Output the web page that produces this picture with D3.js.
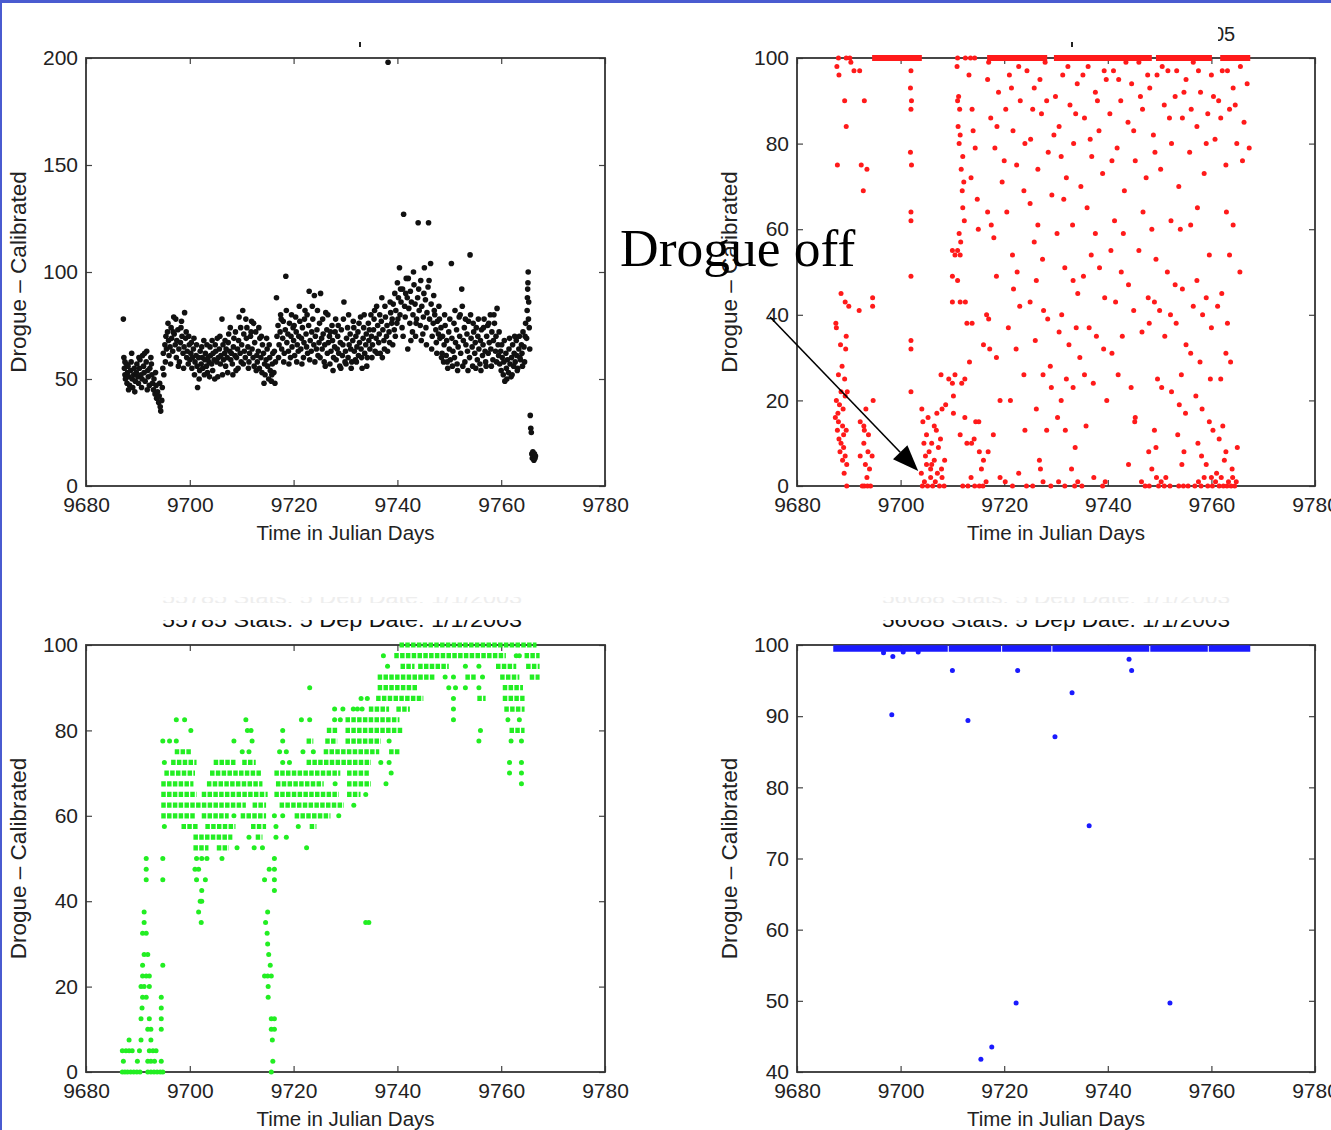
<!DOCTYPE html>
<html>
<head>
<meta charset="utf-8">
<script src="https://cdn.jsdelivr.net/npm/d3@7"></script>
<style>
body { margin:0; background:#fff; }
svg { display:block; }
</style>
</head>
<body>
<div id="container"></div>
<script>
var W = 1331, H = 1130;

// axis ticks
var dayTicks = [9680, 9700, 9720, 9740, 9760, 9780];
var blackTicks = [0, 50, 100, 150, 200];
var pctTicks = [0, 20, 40, 60, 80, 100];
var blueTicks = [40, 50, 60, 70, 80, 90, 100];

// drifter 1 (black) : day,value
var blackPts = "9687.2,78 9687.3,60 9687.4,55 9687.5,52 9687.6,50 9687.8,57 9687.9,48 9688.0,53 9688.1,56 9688.3,51 9688.4,47 9688.6,54 9688.7,58 9688.9,50 9689.0,46 9689.2,52 9689.3,55 9689.5,49 9689.7,53 9689.8,57 9690.0,51 9690.1,48 9690.3,55 9690.4,59 9690.6,52 9690.8,50 9690.9,61 9691.1,56 9691.2,53 9691.4,49 9691.6,58 9691.7,63 9691.9,54 9692.0,51 9692.2,47 9692.3,55 9692.5,60 9692.7,52 9692.8,48 9693.0,45 9693.1,50 9693.3,43 9693.5,47 9693.6,41 9693.8,44 9694.0,39 9694.1,42 9694.3,37 9694.4,35 9694.6,40 9694.7,46 9694.8,55 9694.9,62 9695.0,52 " +
 "9695.2,66 9695.4,70 9695.5,64 9695.7,72 9695.9,68 9696.0,61 9696.2,65 9696.4,74 9696.5,69 9696.7,63 9696.9,79 9697.0,71 9697.2,66 9697.4,60 9697.5,68 9697.7,73 9697.9,64 9698.0,58 9698.2,67 9698.4,77 9698.5,70 9698.7,62 9698.9,65 9699.0,81 9699.2,69 9699.4,60 9699.5,63 9699.7,57 9699.9,66 9700.0,59 9700.2,62 9700.4,55 9700.5,60 9700.7,64 9700.9,52 9701.0,58 9701.2,61 9701.4,56 9701.5,46 9701.7,60 9701.9,54 9702.0,63 9702.2,57 9702.4,60 9702.5,55 9702.7,68 9702.9,59 9703.0,62 9703.2,56 9703.4,53 9703.5,60 9703.7,58 9703.9,65 9704.0,61 9704.2,57 9704.4,54 9704.5,62 9704.7,59 9704.9,66 9705.0,63 9705.2,58 9705.4,51 9705.5,60 9705.7,64 9705.9,57 9706.0,61 9706.2,78 9706.4,66 9706.5,59 9706.7,62 9706.9,56 9707.0,64 9707.2,60 9707.4,67 9707.5,71 9707.7,63 9707.9,59 9708.0,62 9708.2,57 9708.4,65 9708.5,69 9708.7,61 9708.9,54 9709.0,60 9709.2,64 9709.4,68 9709.5,79 9709.7,62 9709.9,58 " +
 "9710.0,66 9710.2,82 9710.4,71 9710.5,63 9710.7,60 9710.9,69 9711.0,74 9711.2,65 9711.4,58 9711.5,62 9711.7,70 9711.9,77 9712.0,64 9712.2,60 9712.4,56 9712.5,67 9712.7,72 9712.9,61 9713.0,58 9713.2,63 9713.4,55 9713.5,69 9713.7,60 9713.9,53 9714.0,66 9714.2,62 9714.4,57 9714.5,52 9714.7,59 9714.9,64 9715.0,56 9715.2,50 9715.4,60 9715.5,54 9715.7,49 9715.9,57 9716.0,62 9716.2,53 9716.4,48 9716.5,58 " +
 "9716.7,88 9716.8,70 9717.0,75 9717.2,66 9717.4,72 9717.5,80 9717.7,64 9717.9,69 9718.0,77 9718.2,62 9718.4,73 9718.5,98 9718.7,67 9718.9,71 9719.0,63 9719.2,76 9719.4,60 9719.5,70 9719.7,65 9719.9,74 9720.0,68 9720.2,61 9720.4,79 9720.5,72 9720.7,66 9720.9,63 9721.0,70 9721.2,77 9721.4,64 9721.5,69 9721.7,74 9721.9,60 9722.0,67 9722.2,82 9722.4,71 9722.5,65 9722.7,62 9722.9,75 9723.0,91 9723.2,68 9723.4,63 9723.5,72 9723.7,78 9723.9,66 9724.0,89 9724.2,70 9724.4,64 9724.5,73 9724.7,61 9724.9,67 9725.0,76 9725.2,90 9725.4,69 9725.5,64 9725.7,71 9725.9,58 9726.0,66 9726.2,81 9726.4,73 9726.5,62 9726.7,67 9726.9,70 9727.0,57 9727.2,63 9727.4,75 9727.5,68 9727.7,60 9727.9,65 9728.0,72 9728.2,59 9728.4,64 9728.5,70 9728.7,62 9728.9,56 9729.0,67 9729.2,73 9729.4,61 9729.5,66 9729.7,86 9729.9,58 " +
 "9730.0,63 9730.2,69 9730.4,74 9730.5,60 9730.7,66 9730.9,71 9731.0,64 9731.2,58 9731.4,68 9731.5,77 9731.7,63 9731.9,59 9732.0,70 9732.2,65 9732.4,72 9732.5,61 9732.7,67 9732.9,79 9733.0,64 9733.2,55 9733.4,69 9733.5,74 9733.7,62 9733.9,66 9734.0,71 9734.2,60 9734.4,76 9734.5,68 9734.7,64 9734.9,80 9735.0,70 9735.2,66 9735.4,73 9735.5,78 9735.7,63 9735.9,69 9736.0,84 9736.2,75 9736.4,67 9736.5,71 9736.7,62 9736.9,77 9737.0,88 9737.2,73 9737.4,68 9737.5,64 9737.7,79 9737.9,70 9738.0,75 9738.2,198 9738.4,72 9738.5,67 9738.7,81 9738.9,76 " +
 "9739.0,78 9739.2,85 9739.4,73 9739.5,90 9739.7,82 9739.9,76 9740.0,95 9740.2,88 9740.4,102 9740.5,80 9740.7,86 9740.9,74 9741.0,92 9741.2,127 9741.4,84 9741.5,79 9741.7,97 9741.9,88 9742.0,64 9742.2,83 9742.4,76 9742.5,91 9742.7,86 9742.9,72 9743.0,80 9743.2,94 9743.4,85 9743.5,70 9743.7,78 9743.9,88 9744.0,123 9744.2,82 9744.4,75 9744.5,96 9744.7,84 9744.9,71 9745.0,79 9745.2,102 9745.4,87 9745.5,74 9745.7,81 9745.9,93 9746.0,123 9746.2,78 9746.4,104 9746.5,85 9746.7,70 9746.9,76 9747.0,89 9747.2,80 9747.4,73 9747.5,67 9747.7,77 9747.9,71 9748.0,84 9748.2,69 9748.4,74 " +
 "9748.6,62 9748.7,70 9748.9,58 9749.0,66 9749.2,75 9749.4,61 9749.5,68 9749.7,55 9749.9,72 9750.0,64 9750.2,59 9750.4,104 9750.5,69 9750.7,63 9750.9,76 9751.0,60 9751.2,67 9751.4,73 9751.5,57 9751.7,65 9751.9,79 9752.0,70 9752.2,62 9752.4,92 9752.5,84 9752.7,68 9752.9,74 9753.0,58 9753.2,66 9753.4,71 9753.5,63 9753.7,77 9753.9,60 9754.0,108 9754.2,69 9754.4,65 9754.5,56 9754.7,72 9754.9,62 9755.0,67 9755.2,74 9755.4,59 9755.5,70 9755.7,64 9755.9,57 9756.0,68 9756.2,73 9756.4,61 9756.5,66 9756.7,78 9756.9,63 9757.0,58 9757.2,70 9757.4,75 9757.5,62 9757.7,67 9757.9,80 9758.0,64 9758.2,72 9758.4,59 9758.5,68 9758.7,76 9758.9,63 9759.0,70 9759.2,83 9759.4,66 9759.5,61 " +
 "9759.7,57 9759.9,63 9760.0,54 9760.2,60 9760.4,52 9760.5,58 9760.7,49 9760.9,62 9761.0,55 9761.2,59 9761.4,53 9761.5,64 9761.7,57 9761.9,51 9762.0,60 9762.2,66 9762.4,56 9762.5,62 9762.7,58 9762.9,68 9763.0,61 9763.2,55 9763.4,64 9763.5,70 9763.7,59 9763.9,66 9764.0,62 9764.2,72 9764.4,65 9764.5,58 9764.7,76 9764.9,69 9765.0,82 9765.1,92 9765.2,100 9765.3,86 9765.4,74 9765.5,64 9765.6,33 9765.7,27 9765.8,25 9765.9,15 9766.0,13 9766.1,16 9766.2,14 9766.3,12 9766.4,15 9766.5,13 9766.6,14 " +
 "9687.5,58 9688.2,45 9688.8,62 9689.4,44 9690.2,60 9690.7,46 9691.3,62 9691.8,45 9692.6,57 9693.4,53 9694.2,48 9695.3,58 9695.8,76 9696.3,57 9696.8,72 9697.3,78 9697.8,56 9698.3,74 9698.8,55 9699.3,72 9699.8,70 9700.3,67 9700.8,69 9701.3,66 9701.8,50 9702.3,65 9702.8,52 9703.3,66 9703.8,51 9704.3,68 9704.8,50 9705.3,69 9705.8,70 9706.3,52 9706.8,68 9707.3,53 9707.8,74 9708.3,52 9708.8,72 9709.3,55 9709.8,74 9710.3,57 9710.8,78 9711.3,55 9711.8,72 9712.3,76 9712.8,54 9713.3,74 9713.8,70 9714.3,48 9714.8,69 9715.3,66 9715.8,52 9716.3,63 " +
 "9717.1,60 9717.6,78 9718.1,58 9718.6,82 9719.1,57 9719.6,80 9720.1,75 9720.6,58 9721.1,84 9721.6,57 9722.1,78 9722.6,80 9723.1,59 9723.6,84 9724.1,58 9724.6,82 9725.1,60 9725.6,78 9726.1,56 9726.6,80 9727.1,72 9727.6,54 9728.1,78 9728.6,75 9729.1,55 9729.6,78 9730.1,57 9730.6,80 9731.1,55 9731.6,74 9732.1,58 9732.6,76 9733.1,60 9733.6,80 9734.1,56 9734.6,73 9735.1,60 9735.6,82 9736.1,62 9736.6,80 9737.1,60 9737.6,84 9738.1,63 9738.6,86 9739.1,66 9739.6,70 " +
 "9740.1,78 9740.6,92 9741.1,70 9741.6,90 9742.1,97 9742.6,68 9743.1,100 9743.6,76 9744.1,92 9744.6,68 9745.1,90 9745.6,66 9746.1,96 9746.6,64 9747.1,82 9747.6,62 9748.1,78 9748.5,60 9749.1,80 9749.6,58 9750.1,78 9750.6,56 9751.1,82 9751.6,54 9752.1,80 9752.6,56 9753.1,78 9753.6,54 9754.1,80 9754.6,76 9755.1,55 9755.6,78 9756.1,54 9756.6,74 9757.1,56 9757.6,76 9758.1,56 9758.6,80 9759.1,58 9759.6,72 9760.1,66 9760.6,68 9761.1,50 9761.6,69 9762.1,52 9762.6,70 9763.1,54 9763.6,60 9764.1,56 9764.6,70 9765.05,88 9765.15,95 9765.25,78";

// drifter 2 (red)
var redTopRuns = [[100, 9694.5, 9704.1], [100, 9716.7, 9728.3], [100, 9729.6, 9748.5], [100, 9749.3, 9760.1], [100, 9761.7, 9767.5]];
var redPts = "9688.5,45 9689.3,43 9690,42 9692,41 9694.6,44 9694.6,42 9687.5,38 9687.6,37 9688.4,33 9689.4,32 9689.5,35 9688.7,28 9688,26 9689.2,25 9688.5,22 9689.3,21 9689.7,22 9687.6,20 9688.2,19 9687.4,16 9688,15 9688.8,14 9689.5,13 9687.8,13 9689,12 9688.5,10 9689,9 9688.3,8 9689.3,7 9688.8,6 9689.6,5 9689.6,0 9688.1,11 9687.9,17 9688.9,18 9689.1,3 9687.7,98 9688.1,96 9689.2,90 9689.5,84 9687.8,75 9690.4,99 9691,97 9688,100 9689.5,100 9690.2,100 " +
 "9694.7,20 9693.3,18 9692.2,15 9692.9,14 9693,13 9693.8,12 9692.2,7 9694.5,7 9693.2,5 9694,4 9693.5,2 9693,0 9693.6,0 9694.2,0 9692.6,0 9692.9,10 9693.7,8 9692.4,75 9693.5,74 9692.8,69 9692.1,97 9693,90 " +
 "9702,64 9702,62 9702,49 9702,34 9702,32 9702,22 9701.8,100 9702,97 9701.9,93 9702.1,90 9702,88 9701.9,78 9702.1,75 " +
 "9704.1,18 9704.3,15 9705,12 9704.5,10 9705.5,8 9706.5,6 9707.3,9 9705.8,4 9706.5,14 9707.7,11 9706.9,13 9708,18 9708.7,19 9707.8,26 9709.3,25 9710,24 9704,3 9704.6,1 9705.2,0 9705.8,2 9706.2,0 9706.7,1 9707.1,3 9707.5,0 9708,2 9708.4,0 9705,5 9706,5 9704.8,7 9705.3,16 9707,17 9704.2,0 9706,10 9708.5,6 9707.9,4 " +
 "9710,55 9710.5,54 9711,55 9711.5,54 9710,49 9711,48 9710,43 9711.5,43 9712.5,43 9712.8,38 9713.8,38 9716.6,40 9717,39 9716,33 9713.3,29 9710.5,26 9712.4,25 9711.8,24 9710.2,21 9710.2,17 9712.4,16 9714.5,15 9715.1,15 9711.5,12 9712.8,10 9714.2,11 9713.7,10 9715.2,8 9716,6 9715.6,4 9712,0 9713,0 9714.3,0 9715.2,0 9715.9,0 9716.5,1 9713.6,2 9710.9,98 9711.2,91 9711,90 9711.4,88 9711.1,84 9711.5,82 9711.3,80 9712,77 9711.7,74 9712.2,71 9711.9,69 9713.2,96 9713.8,88 9714,83 9714.4,79 9713.6,72 9714.8,67 9715,60 9711.3,59 9711.6,57 9712,65 9712.3,62 9711,100 9712.5,100 9713.5,100 9714.3,100 " +
 "9716.8,64 9717.5,61 9718,58 9718.5,49 9717.2,32 9718.5,30 9719.2,20 9717.9,12 9716.9,8 9719.2,2 9720.5,64 9721.6,54 9722.5,50 9721.8,46 9723,42 9720.8,37 9722.3,32 9723.8,26 9721.2,20 9724,13 9721.6,0 9724.3,0 9725,66 9726.5,61 9725.8,57 9727.4,53 9726.2,48 9725,43 9727.6,41 9728.4,39 9726,34 9728.9,28 9727.5,26 9729.1,23 9726.2,18 9728.2,13 9726.8,6 9729,0 9727.5,1 " +
 "9731.5,67 9733.2,61 9730.2,59 9731.7,51 9733.3,48 9734.2,45 9731.1,40 9733.9,37 9730.6,36 9732.5,33 9734.6,30 9732,25 9733.3,23 9731,20 9730.3,16 9731.8,13 9733.7,9 9733,4 9733.6,0 9731.7,0 9735,0 9736,65 9737.6,59 9736.8,54 9738.4,51 9735.3,49 9739.4,44 9736.4,37 9737.8,35 9739.2,32 9735.5,26 9737.2,24 9739.8,20 9735.8,14 9737.3,2 9739,0 " +
 "9741.3,62 9743,59 9740.6,55 9742.6,50 9744,47 9741.5,43 9745,41 9742.8,35 9740.8,31 9742,26 9744.5,23 9745.3,16 9745.2,15 9746.8,64 9748.5,60 9746,55 9749.3,53 9747.8,44 9749,43 9750,41 9748,38 9746.6,36 9749.6,25 9750.4,23 9749,13 9749.3,9 9748.5,4 9749.4,2 9748,0 9749.8,0 9750.9,0 9752,0 " +
 "9752.2,62 9754,60 9751.5,50 9753,47 9754.4,46 9752.1,40 9753.2,38 9751,35 9755.1,33 9754.2,26 9752.3,22 9753.8,19 9755,17 9753.5,12 9754.7,8 9754.3,5 9753.7,0 9754.6,0 9755.5,0 9757.3,65 9756,61 9759.6,54 9757.2,48 9759,44 9756.5,42 9758.3,40 9760,37 9756,31 9757.8,29 9759.8,25 9757,21 9758.2,18 9759.6,15 9760.3,13 9758.1,7 9759,5 9760,2 9756.8,0 9758,0 9759.3,0 9760.2,0 " +
 "9762.9,64 9764.2,61 9763.5,54 9765.5,50 9762,45 9761.2,42 9763.1,38 9762.8,31 9763.7,29 9761.8,25 9762.2,14 9761.5,11 9762.8,8 9761,3 9761.5,0 9762.3,0 9763,0 9763.8,0 9764.5,0 " +
 "9746.5,1 9747.2,0 9750.3,1 9751.2,2 9757.5,1 9758.6,2 9760.8,1 9761.9,2 9763.3,1 9764.1,2 9764.8,1 9720.2,1 9725.5,0 9730.5,1 9734.2,1 9739.5,1 9722.8,3 9727,4 9744,5 9747.9,8 9757.4,10 9762.5,6 9764,4 9765,9 " +
 "9716.8,95 9717.4,86 9718.2,79 9718.9,92 9719.6,71 9720.3,88 9721,96 9721.7,83 9722.4,75 9723.1,90 9723.8,69 9724.4,97 9725.1,81 9725.8,93 9726.5,74 9727.2,87 9727.9,99 9728.5,78 9729.2,68 9729.9,91 9730.6,84 9731.3,96 9732,72 9732.7,89 9733.4,80 9734.1,94 9734.8,70 9735.5,86 9736.2,98 9736.9,77 9737.6,92 9738.3,83 9739,73 9739.7,95 9740.4,87 9741.1,97 9741.8,79 9742.5,90 9743.2,69 9743.9,85 9744.6,94 9745.3,76 9746,99 9746.7,88 9747.4,72 9748.1,93 9748.8,82 9749.5,96 9750.2,74 9750.9,89 9751.6,97 9752.3,80 9753,91 9753.7,70 9754.4,86 9755.1,95 9755.8,78 9756.5,99 9757.2,84 9757.9,92 9758.6,73 9759.3,87 9760,96 9760.7,81 9761.4,90 9762.1,97 9762.8,75 9763.5,88 9764.2,93 9764.9,80 9765.6,98 9766.3,85 9766.9,94 9767.3,79 " +
 "9717,99 9718.6,84 9720,76 9721.4,93 9722.8,98 9724,80 9725.5,88 9726.9,95 9728.2,90 9729.6,82 9731,77 9732.3,98 9733.8,87 9735.2,96 9736.6,81 9738,90 9739.3,97 9740.8,76 9742.1,95 9743.5,99 9745,83 9746.3,91 9747.7,96 9749.1,78 9750.5,98 9751.9,86 9753.3,97 9754.7,92 9756.1,88 9757.5,97 9759,80 9760.4,91 9761.8,86 9763.1,97 9764.6,89 9766,76";

// drifter 3 (green): dense rows as [value, from, to], single fixes as day,value
var greenRuns = [
 [100, 9740.4, 9766.8],
 [97.5, 9739.4, 9760.9], [97.5, 9764.5, 9767.4],
 [95, 9740.6, 9743.3], [95, 9744.0, 9749.9], [95, 9759.0, 9762.9], [95, 9764.8, 9767.4],
 [92.5, 9736.2, 9747.3], [92.5, 9753.1, 9755.1], [92.5, 9759.8, 9763.5], [92.5, 9765.5, 9767.4],
 [90, 9736.2, 9744.0], [90, 9760.3, 9764.2],
 [87.5, 9735.9, 9745.0], [87.5, 9755.4, 9757.0], [87.5, 9760.3, 9764.5],
 [85, 9734.5, 9738.4], [85, 9739.8, 9742.4], [85, 9760.6, 9764.5],
 [82.5, 9730.0, 9740.4],
 [80, 9726.4, 9728.4], [80, 9730.0, 9741.1], [80, 9761.6, 9764.5],
 [77.5, 9722.5, 9723.8], [77.5, 9726.1, 9728.4], [77.5, 9730.0, 9736.8],
 [75, 9697.1, 9700.3], [75, 9725.8, 9736.5], [75, 9738.4, 9740.4],
 [72.5, 9696.4, 9701.3], [72.5, 9704.6, 9708.8], [72.5, 9710.1, 9712.7], [72.5, 9722.5, 9734.9],
 [70, 9695.1, 9701.0], [70, 9703.9, 9713.7], [70, 9716.3, 9729.0], [70, 9730.3, 9734.5],
 [67.5, 9694.5, 9700.7], [67.5, 9703.3, 9714.0], [67.5, 9716.6, 9725.8], [67.5, 9730.3, 9734.9],
 [65, 9694.5, 9701.3], [65, 9702.3, 9715.0], [65, 9716.3, 9728.7], [65, 9730.3, 9732.9],
 [62.5, 9694.5, 9710.8], [62.5, 9712.1, 9714.7], [62.5, 9717.3, 9729.7],
 [60, 9694.5, 9701.0], [60, 9702.3, 9707.5], [60, 9709.8, 9714.7], [60, 9720.2, 9727.1],
 [57.5, 9698.4, 9701.7], [57.5, 9703.0, 9708.8], [57.5, 9711.8, 9714.7], [57.5, 9723.1, 9724.4],
 [55, 9700.7, 9708.2], [55, 9712.7, 9714.0],
 [52.5, 9700.7, 9703.6], [52.5, 9705.2, 9707.5]
];
var greenPts = "9737.3,97.5 9762.9,97.5 9763.5,97.5 9738.1,95 9753.1,95 9755.7,95 9749.2,92.5 9750.8,92.5 9756.4,92.5 9723.1,90 9749.9,90 9751.2,90 9753.1,90 9755.7,90 9733.0,87.5 9734.2,87.5 9750.8,87.5 9727.9,85 9729.5,85 9731.5,85 9732.3,85 9733.2,85 9750.8,85 9697.4,82.5 9699.0,82.5 9710.8,82.5 9721.5,82.5 9723.1,82.5 9727.9,82.5 9729.0,82.5 9750.8,82.5 9761.3,82.5 9763.5,82.5 9700.2,80 9711.1,80 9711.8,80 9717.9,80 9756.0,80 9694.8,77.5 9696.1,77.5 9697.4,77.5 9708.5,77.5 9712.0,77.5 9717.9,77.5 9738.4,77.5 9755.7,77.5 9761.9,77.5 9763.9,77.5 9710.1,75 9711.4,75 9717.3,75 9718.6,75 9721.8,75 9723.8,75 9695.1,72.5 9717.9,72.5 9719.2,72.5 9736.8,72.5 9738.4,72.5 9761.6,72.5 9763.9,72.5 9738.8,70 9761.6,70 9763.9,70 9728.0,67.5 9737.8,67.5 9763.9,67.5 9733.9,65 9731.6,62.5 9708.5,60 9716.3,60 9717.9,60 9728.7,60 9695.1,57.5 9716.6,57.5 9720.9,57.5 9711.4,55 9716.6,55 9718.6,55 9709.1,52.5 9712.4,52.5 9714.0,52.5 9722.5,52.5 " +
 "9691.6,50 9694.8,50 9701.3,50 9702.3,50 9703.3,50 9706.2,50 9716.3,50 9691.6,47.5 9701.0,47.5 9701.7,47.5 9715.3,47.5 9716.3,47.5 9691.6,45 9694.8,45 9701.3,45 9703.0,45 9714.4,45 9716.3,45 9702.3,42.5 9716.3,42.5 9702.0,40 9702.3,40 9691.2,37.5 9701.7,37.5 9715.0,37.5 9691.2,35 9702.2,35 9714.6,35 9733.9,35 9734.5,35 9690.9,32.5 9691.6,32.5 9714.9,32.5 9715.0,30 9691.2,27.5 9691.9,27.5 9715.2,27.5 9690.9,25 9694.8,25 9715.5,25 9690.9,22.5 9691.6,22.5 9692.2,22.5 9714.4,22.5 9715.0,22.5 9715.7,22.5 9690.6,20 9691.2,20 9692.2,20 9715.1,20 9690.9,17.5 9691.6,17.5 9694.5,17.5 9715.1,17.5 9690.8,15 9694.5,15 9690.6,12.5 9692.2,12.5 9694.5,12.5 9715.7,12.5 9716.3,12.5 9691.9,10 9692.5,10 9694.5,10 9715.7,10 9716.3,10 9688.3,7.5 9690.6,7.5 9692.5,7.5 9715.9,7.5 9687.0,5 9687.7,5 9688.3,5 9688.9,5 9690.3,5 9692.2,5 9692.9,5 9693.5,5 9687.2,2.5 9689.9,2.5 9691.9,2.5 9692.5,2.5 9693.2,2.5 9694.5,2.5 9716.0,2.5 9687.0,0 9687.5,0 9688.0,0 9688.6,0 9689.2,0 9689.8,0 9690.4,0 9691.9,0 9692.5,0 9693.1,0 9693.7,0 9694.3,0 9694.8,0 9715.7,0";

// drifter 4 (blue)
var blueRuns = [[99.5, 9687, 9709.1], [99.5, 9709.3, 9719.4], [99.5, 9719.6, 9729.1], [99.5, 9729.3, 9748.0], [99.5, 9748.2, 9759.3], [99.5, 9759.5, 9767.5]];
var bluePts = "9696.7,98.9 9698.5,98.4 9700.5,99.0 9703.4,99.0 9698.3,90.2 9710,96.4 9713,89.4 9722.6,96.4 9729.8,87.1 9733.1,93.3 9744.1,98.0 9744.6,96.4 9736.4,74.6 9722.3,49.7 9752,49.7 9715.5,41.8 9717.6,43.5";

// annotation, in drifter 2 data units
var arrowFrom = [9674.8, 39.5], arrowTo = [9703.4, 3.5];

var titles = ["55785 Stats: 5 Dep Date: 1/1/2003", "56088 Stats: 5 Dep Date: 1/1/2003"];

function parsePts(s) {
	return s.trim().split(/\s+/).map(function(p) {
		var a = p.split(',');
		return {x: +a[0], y: +a[1]};
	});
}

var svg = d3.select('#container').append('svg')
	.attr('width', W)
	.attr('height', H);

svg.append('rect').attr('width', W).attr('height', H).attr('fill', '#fff');

var panels = [
	{left: 86, top: 58, w: 519, h: 428, ydom: [0, 200], yticks: blackTicks, color: '#111', pts: parsePts(blackPts), runs: [], r: 2.8, rw: 5},
	{left: 797, top: 58, w: 518, h: 428, ydom: [0, 100], yticks: pctTicks, color: '#ff1a1a', pts: parsePts(redPts), runs: redTopRuns, r: 2.5, rw: 6},
	{left: 86, top: 645, w: 519, h: 427, ydom: [0, 100], yticks: pctTicks, color: '#22ee22', pts: parsePts(greenPts), runs: greenRuns, r: 2.5, rw: 5.2, dash: '4.5,1.3'},
	{left: 797, top: 645, w: 518, h: 427, ydom: [40, 100], yticks: blueTicks, color: '#1a1aff', pts: parsePts(bluePts), runs: blueRuns, r: 2.5, rw: 6.5}
];

var scales = panels.map(drawPanel);

function drawPanel(p) {
	var g = svg.append('g').attr('transform', 'translate(' + p.left + ',' + p.top + ')');
	var x = d3.scaleLinear().domain([9680, 9780]).range([0, p.w]);
	var y = d3.scaleLinear().domain(p.ydom).range([p.h, 0]);

	g.append('g').attr('class', 'axis').attr('transform', 'translate(0,' + p.h + ')')
		.call(d3.axisBottom(x).tickValues(dayTicks).tickFormat(d3.format('d')).tickSizeInner(-6).tickSizeOuter(0).tickPadding(11));
	g.append('g').attr('class', 'axis')
		.call(d3.axisLeft(y).tickValues(p.yticks).tickFormat(d3.format('d')).tickSizeInner(-6).tickSizeOuter(0).tickPadding(8));
	g.append('g').attr('class', 'axis')
		.call(d3.axisTop(x).tickValues(dayTicks).tickFormat('').tickSizeInner(-6).tickSizeOuter(0));
	g.append('g').attr('class', 'axis').attr('transform', 'translate(' + p.w + ',0)')
		.call(d3.axisRight(y).tickValues(p.yticks).tickFormat('').tickSizeInner(-6).tickSizeOuter(0));

	g.selectAll('.axis .domain').remove();
	g.selectAll('.axis')
		.attr('font-family', '"Liberation Sans", Arial, sans-serif')
		.attr('font-size', 21);
	g.selectAll('.axis line').attr('stroke', '#444').attr('stroke-width', 1.2);
	g.selectAll('.axis text').attr('fill', '#222');

	g.append('rect')
		.attr('width', p.w)
		.attr('height', p.h)
		.attr('fill', 'none')
		.attr('stroke', '#333')
		.attr('stroke-width', 1.8);

	g.append('text')
		.attr('x', p.w / 2)
		.attr('y', p.h + 54)
		.attr('text-anchor', 'middle')
		.attr('font-family', '"Liberation Sans", Arial, sans-serif')
		.attr('font-size', 20.5)
		.attr('fill', '#222')
		.text('Time in Julian Days');

	g.append('text')
		.attr('transform', 'translate(-60,' + (p.h / 2) + ') rotate(-90)')
		.attr('text-anchor', 'middle')
		.attr('font-family', '"Liberation Sans", Arial, sans-serif')
		.attr('font-size', 22.5)
		.attr('fill', '#222')
		.text('Drogue \u2013 Calibrated');

	g.selectAll('.run').data(p.runs).enter()
		.append('line')
		.attr('class', 'run')
		.attr('x1', function(d) { return x(d[1]); })
		.attr('x2', function(d) { return x(d[2]); })
		.attr('y1', function(d) { return y(d[0]); })
		.attr('y2', function(d) { return y(d[0]); })
		.attr('stroke', p.color)
		.attr('stroke-width', p.rw)
		.attr('stroke-dasharray', p.dash || null);

	g.selectAll('.dot').data(p.pts).enter()
		.append('circle')
		.attr('class', 'dot')
		.attr('r', p.r)
		.attr('cx', function(d) { return x(d.x); })
		.attr('cy', function(d) { return y(d.y); })
		.attr('fill', p.color);

	return {x: x, y: y, p: p};
}

// remnants of the cropped panel titles
var defs = svg.append('defs');
defs.append('clipPath').attr('id', 'cutLow')
	.append('rect').attr('x', 0).attr('y', 620).attr('width', W).attr('height', 13);
defs.append('clipPath').attr('id', 'cutFaint')
	.append('rect').attr('x', 0).attr('y', 597).attr('width', W).attr('height', 6);
defs.append('clipPath').attr('id', 'cutTop')
	.append('rect').attr('x', 1218).attr('y', 20).attr('width', 40).attr('height', 30);

[[162, 522], [882, 1230]].forEach(function(span, i) {
	svg.append('text')
		.attr('x', span[0]).attr('y', 627)
		.attr('textLength', span[1] - span[0]).attr('lengthAdjust', 'spacingAndGlyphs')
		.attr('font-family', '"Liberation Sans", Arial, sans-serif')
		.attr('font-size', 21)
		.attr('fill', '#111')
		.attr('clip-path', 'url(#cutLow)')
		.text(titles[i]);
	svg.append('text')
		.attr('x', span[0]).attr('y', 604)
		.attr('textLength', span[1] - span[0]).attr('lengthAdjust', 'spacingAndGlyphs')
		.attr('font-family', '"Liberation Sans", Arial, sans-serif')
		.attr('font-size', 21)
		.attr('fill', '#eeeeee')
		.attr('clip-path', 'url(#cutFaint)')
		.text(titles[i]);
});

svg.append('text')
	.attr('x', 1213).attr('y', 41)
	.attr('font-family', '"Liberation Sans", Arial, sans-serif')
	.attr('font-size', 20)
	.attr('fill', '#222')
	.attr('clip-path', 'url(#cutTop)')
	.text('05');

[360, 1072].forEach(function(cx) {
	svg.append('rect').attr('x', cx - 1).attr('y', 42).attr('width', 2).attr('height', 5).attr('fill', '#222');
});

// "Drogue off" annotation
var red = scales[1];
var ax0 = red.p.left + red.x(arrowFrom[0]), ay0 = red.p.top + red.y(arrowFrom[1]);
var ax1 = red.p.left + red.x(arrowTo[0]), ay1 = red.p.top + red.y(arrowTo[1]);
var len = Math.hypot(ax1 - ax0, ay1 - ay0), ux = (ax1 - ax0) / len, uy = (ay1 - ay0) / len;
var headL = 26, headW = 10;

svg.append('line')
	.attr('x1', ax0).attr('y1', ay0)
	.attr('x2', ax1 - ux * headL).attr('y2', ay1 - uy * headL)
	.attr('stroke', '#000').attr('stroke-width', 1.6);
svg.append('path')
	.attr('d', 'M' + ax1 + ',' + ay1 +
		'L' + (ax1 - ux * headL - uy * headW) + ',' + (ay1 - uy * headL + ux * headW) +
		'L' + (ax1 - ux * headL + uy * headW) + ',' + (ay1 - uy * headL - ux * headW) + 'Z')
	.attr('fill', '#000');

svg.append('text')
	.attr('x', 620).attr('y', 266)
	.attr('font-family', '"Liberation Serif", "Times New Roman", serif')
	.attr('font-size', 53.5)
	.attr('fill', '#000')
	.text('Drogue off');

// slide frame
svg.append('rect').attr('x', 0).attr('y', 0).attr('width', W).attr('height', 3).attr('fill', '#4a5bd0');
svg.append('rect').attr('x', 0).attr('y', 0).attr('width', 2).attr('height', H).attr('fill', '#4a5bd0');
</script>
</body>
</html>
